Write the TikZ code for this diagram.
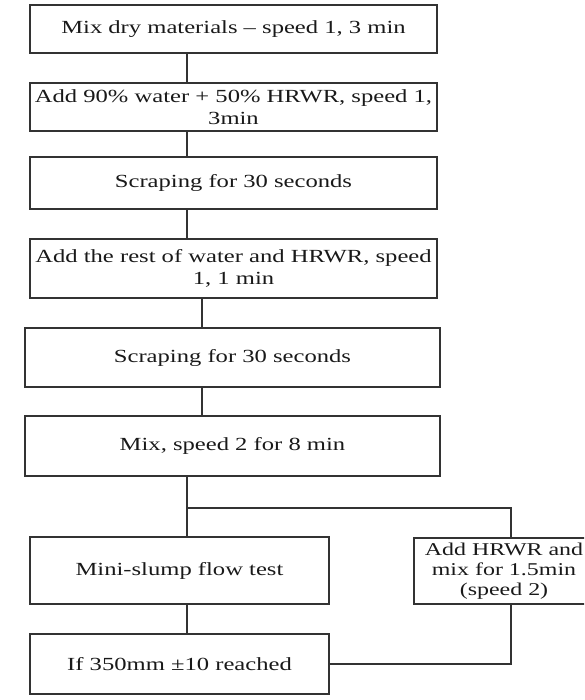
\documentclass[tikz,border=0pt]{standalone}
\usepackage{fontspec}
\setmainfont{Liberation Serif}[FakeStretch=1.33]
\begin{document}
\begin{tikzpicture}[x=1pt,y=-1pt,
  box/.style={draw=black!80, line width=1.2pt, inner sep=0pt, align=center,
    font=\fontsize{18.5}{22}\selectfont, text=black!90},
  conn/.style={draw=black!80, line width=1.2pt}]
\useasboundingbox (0,0) rectangle (584,700);
\clip (0,0) rectangle (584,700);
\node[box, minimum width=407pt, minimum height=48pt] (b1) at (233.5,29) {Mix dry materials -- speed 1, 3 min};
\node[box, minimum width=407pt, minimum height=48pt] (b2) at (233.5,107) {Add 90\% water + 50\% HRWR, speed 1,\\3min};
\node[box, minimum width=407pt, minimum height=52pt] (b3) at (233.5,183) {Scraping for 30 seconds};
\node[box, minimum width=407pt, minimum height=59pt] (b4) at (233.5,268.5) {Add the rest of water and HRWR, speed\\1, 1 min};
\node[box, minimum width=415pt, minimum height=59pt] (b5) at (232.5,357.5) {Scraping for 30 seconds};
\node[box, minimum width=415pt, minimum height=60pt] (b6) at (232.5,446) {Mix, speed 2 for 8 min};
\node[box, minimum width=299pt, minimum height=67pt] (b7) at (179.5,570.5) {Mini-slump flow test};
\node[box, minimum width=299pt, minimum height=60pt] (b8) at (179.5,664) {If 350mm ±10 reached};
\node[box, minimum width=186pt, minimum height=66pt] (b9) at (507,571) {};
\node[font=\fontsize{18}{20}\selectfont, text=black!90, align=center, inner sep=0pt] (t9) at (504,571) {Add HRWR and\\mix for 1.5min\\(speed 2)};
\coordinate (xa) at (187,0);
\coordinate (xb) at (202,0);
\coordinate (xr) at (511,0);
\coordinate (J) at (187,508);
\draw[conn] (b1.south -| xa) -- (b2.north -| xa);
\draw[conn] (b2.south -| xa) -- (b3.north -| xa);
\draw[conn] (b3.south -| xa) -- (b4.north -| xa);
\draw[conn] (b4.south -| xb) -- (b5.north -| xb);
\draw[conn] (b5.south -| xb) -- (b6.north -| xb);
\draw[conn] (b6.south -| xa) -- (b7.north -| xa);
\draw[conn] (J) -| (b9.north -| xr);
\draw[conn] (b7.south -| xa) -- (b8.north -| xa);
\draw[conn] (b8.east) -| (b9.south -| xr);
\end{tikzpicture}
\end{document}
